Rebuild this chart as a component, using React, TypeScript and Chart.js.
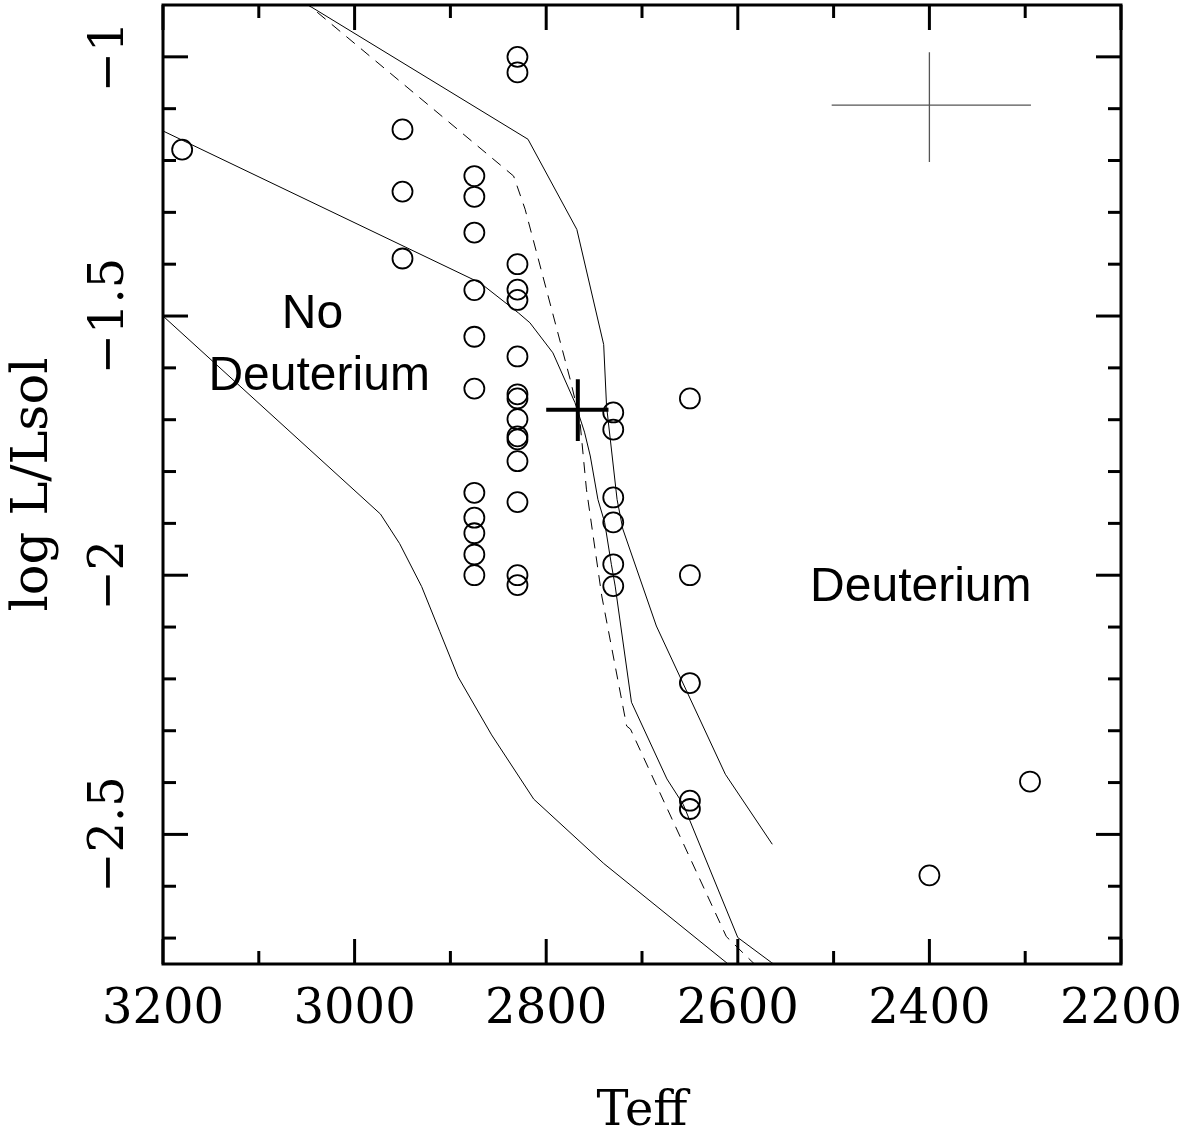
import React, { useEffect, useRef } from 'react';
import { Chart, registerables } from 'chart.js';

Chart.register(...registerables);

// Axis limits
const X_LEFT = 3200;
const X_RIGHT = 2200;
const Y_MIN = -2.75;
const Y_MAX = -0.9;

// Tick values
const xMajorTicks = [3200, 3000, 2800, 2600, 2400, 2200];
const xMinorTicks = [3100, 2900, 2700, 2500, 2300];
const yMajorTicks = [-1, -1.5, -2, -2.5];
const yMinorTicks = [-1.1, -1.2, -1.3, -1.4, -1.6, -1.7, -1.8, -1.9, -2.1, -2.2, -2.3, -2.4, -2.6, -2.7];

// Observed objects (open circles)
const starTeff = [
  3180,
  2950, 2950, 2950,
  2875, 2875, 2875, 2875, 2875, 2875, 2875, 2875, 2875, 2875, 2875,
  2830, 2830, 2830, 2830, 2830, 2830, 2830, 2830, 2830, 2830, 2830, 2830, 2830, 2830, 2830,
  2730, 2730, 2730, 2730, 2730, 2730,
  2650, 2650, 2650, 2650, 2650,
  2400,
  2295,
];
const starLogL = [
  -1.179,
  -1.140, -1.260, -1.389,
  -1.230, -1.270, -1.339, -1.450, -1.540, -1.640, -1.841, -1.889, -1.919, -1.960, -2.000,
  -1.000, -1.030, -1.400, -1.449, -1.469, -1.578, -1.651, -1.659, -1.699, -1.732, -1.738, -1.780, -1.859, -2.000, -2.019,
  -1.686, -1.719, -1.850, -1.898, -1.979, -2.021,
  -1.659, -2.000, -2.208, -2.435, -2.451,
  -2.579,
  -2.398,
];

// Model curves
const curveATeff = [3200, 2973, 2953, 2930, 2911, 2892, 2857, 2813, 2740, 2580];
const curveALogL = [-1.5, -1.882, -1.939, -2.022, -2.109, -2.196, -2.308, -2.432, -2.556, -2.795];

const curveBTeff = [3200, 2869, 2829, 2817, 2793, 2770, 2760, 2754, 2746, 2739, 2732, 2728, 2711, 2674, 2657, 2600, 2565, 2540];
const curveBLogL = [-1.143, -1.436, -1.494, -1.513, -1.571, -1.667, -1.724, -1.770, -1.854, -1.898, -1.979, -2.021, -2.245, -2.393, -2.442, -2.699, -2.747, -2.780];

const curveCTeff = [3100, 2819, 2768, 2740, 2737, 2726, 2720, 2685, 2613, 2564];
const curveCLogL = [-0.842, -1.159, -1.333, -1.555, -1.674, -1.854, -1.911, -2.098, -2.384, -2.519];

const curveDTeff = [3100, 2834, 2822, 2775, 2765, 2758, 2742, 2716, 2712, 2612, 2586, 2560];
const curveDLogL = [-0.82, -1.230, -1.294, -1.622, -1.699, -1.834, -2.040, -2.291, -2.297, -2.697, -2.744, -2.790];

// Error crosses
const bigCrossTeff = [2800, 2735];
const bigCrossTeffCenter = 2767;
const bigCrossLogL = [-1.622, -1.741];
const bigCrossLogLCenter = -1.681;

const smallCrossTeff = [2502, 2294];
const smallCrossTeffCenter = 2400;
const smallCrossLogL = [-0.991, -1.203];
const smallCrossLogLCenter = -1.093;

// Region labels
const labelTexts = ['No', 'Deuterium', 'Deuterium'];
const labelTeff = [3044, 3037, 2409];
const labelLogL = [-1.524, -1.643, -2.05];

const toPts = (xs: number[], ys: number[]) => xs.map((x, i) => ({ x, y: ys[i] }));

const SERIF = '"DejaVu Serif", "Liberation Serif", serif';

const frameTicksPlugin = {
  id: 'frameTicks',
  afterDatasetsDraw(chart: any) {
    const { ctx, chartArea: a, scales } = chart;
    const xs = scales.x;
    const ys = scales.y;
    ctx.save();
    ctx.strokeStyle = '#000';
    ctx.lineWidth = 3;
    ctx.lineCap = 'butt';
    const seg = (x1: number, y1: number, x2: number, y2: number) => {
      ctx.beginPath();
      ctx.moveTo(x1, y1);
      ctx.lineTo(x2, y2);
      ctx.stroke();
    };
    const xt = (vals: number[], len: number) =>
      vals.forEach((v) => {
        const p = xs.getPixelForValue(v);
        seg(p, a.bottom, p, a.bottom - len);
        seg(p, a.top, p, a.top + len);
      });
    const yt = (vals: number[], len: number) =>
      vals.forEach((v) => {
        const p = ys.getPixelForValue(v);
        seg(a.left, p, a.left + len, p);
        seg(a.right, p, a.right - len, p);
      });
    xt(xMajorTicks, 25);
    xt(xMinorTicks, 13);
    yt(yMajorTicks, 25);
    yt(yMinorTicks, 13);
    ctx.strokeRect(a.left, a.top, a.right - a.left, a.bottom - a.top);

    ctx.fillStyle = '#000';
    ctx.font = '48px "Liberation Sans", Arial, sans-serif';
    ctx.textAlign = 'center';
    ctx.textBaseline = 'alphabetic';
    labelTexts.forEach((t, i) => {
      ctx.fillText(t, xs.getPixelForValue(labelTeff[i]), ys.getPixelForValue(labelLogL[i]));
    });
    ctx.restore();
  },
};

const lineDs = (label: string, xs: number[], ys: number[], extra: any = {}) => ({
  label,
  data: toPts(xs, ys),
  showLine: true,
  borderColor: '#000',
  borderWidth: 1,
  pointRadius: 0,
  fill: false,
  tension: 0,
  ...extra,
});

export default function App() {
  const canvasRef = useRef<HTMLCanvasElement | null>(null);

  useEffect(() => {
    if (!canvasRef.current) return;
    const chart = new Chart(canvasRef.current, {
      type: 'scatter',
      data: {
        datasets: [
          lineDs('curveA', curveATeff, curveALogL),
          lineDs('curveB', curveBTeff, curveBLogL),
          lineDs('curveC', curveCTeff, curveCLogL),
          lineDs('curveD', curveDTeff, curveDLogL, { borderDash: [11, 8] }),
          {
            label: 'objects',
            data: toPts(starTeff, starLogL),
            showLine: false,
            pointStyle: 'circle',
            pointRadius: 10,
            backgroundColor: 'rgba(0,0,0,0)',
            borderColor: '#000',
            borderWidth: 1.8,
          },
          lineDs('bigCrossH', bigCrossTeff, [bigCrossLogLCenter, bigCrossLogLCenter], { borderWidth: 4 }),
          lineDs('bigCrossV', [bigCrossTeffCenter, bigCrossTeffCenter], bigCrossLogL, { borderWidth: 4 }),
          lineDs('smallCrossH', smallCrossTeff, [smallCrossLogLCenter, smallCrossLogLCenter], { borderWidth: 1.3, borderColor: '#555' }),
          lineDs('smallCrossV', [smallCrossTeffCenter, smallCrossTeffCenter], smallCrossLogL, { borderWidth: 1.3, borderColor: '#555' }),
        ],
      },
      options: {
        animation: false,
        responsive: true,
        maintainAspectRatio: false,
        layout: { autoPadding: false, padding: { left: 0, top: 5, right: 75, bottom: 0 } },
        plugins: {
          legend: { display: false },
          tooltip: { enabled: false },
        },
        scales: {
          x: {
            type: 'linear',
            min: X_RIGHT,
            max: X_LEFT,
            reverse: true,
            grid: { display: false, drawTicks: false },
            border: { display: false },
            afterBuildTicks: (s: any) => {
              s.ticks = xMajorTicks.map((v) => ({ value: v }));
            },
            afterFit: (s: any) => {
              s.height = 178;
              s.paddingLeft = 0;
              s.paddingRight = 0;
            },
            ticks: {
              autoSkip: false,
              maxRotation: 0,
              minRotation: 0,
              padding: 18,
              color: '#000',
              font: { family: SERIF, size: 48 },
              callback: (v: any) => String(v),
            },
            title: {
              display: true,
              text: 'Teff',
              color: '#000',
              font: { family: SERIF, size: 48 },
              padding: { top: 0, bottom: 1 },
            },
          },
          y: {
            type: 'linear',
            min: Y_MIN,
            max: Y_MAX,
            grid: { display: false, drawTicks: false },
            border: { display: false },
            afterBuildTicks: (s: any) => {
              s.ticks = yMajorTicks.map((v) => ({ value: v }));
            },
            afterFit: (s: any) => {
              s.width = 163;
              s.paddingTop = 0;
              s.paddingBottom = 0;
            },
            ticks: {
              autoSkip: false,
              minRotation: 90,
              maxRotation: 90,
              crossAlign: 'center',
              padding: -6,
              color: '#000',
              font: { family: SERIF, size: 48 },
              callback: (v: any) => (v < 0 ? '\u2212' : '') + String(Math.abs(v)),
            },
            title: {
              display: true,
              text: 'log L/Lsol',
              color: '#000',
              font: { family: SERIF, size: 51 },
              padding: { top: 3, bottom: 0 },
            },
          },
        },
      } as any,
      plugins: [frameTicksPlugin],
    });
    return () => chart.destroy();
  }, []);

  return (
    <div style={{ position: 'fixed', left: 0, top: 0, width: 1196, height: 1142, background: '#fff' }}>
      <canvas ref={canvasRef} style={{ display: 'block' }} />
    </div>
  );
}
